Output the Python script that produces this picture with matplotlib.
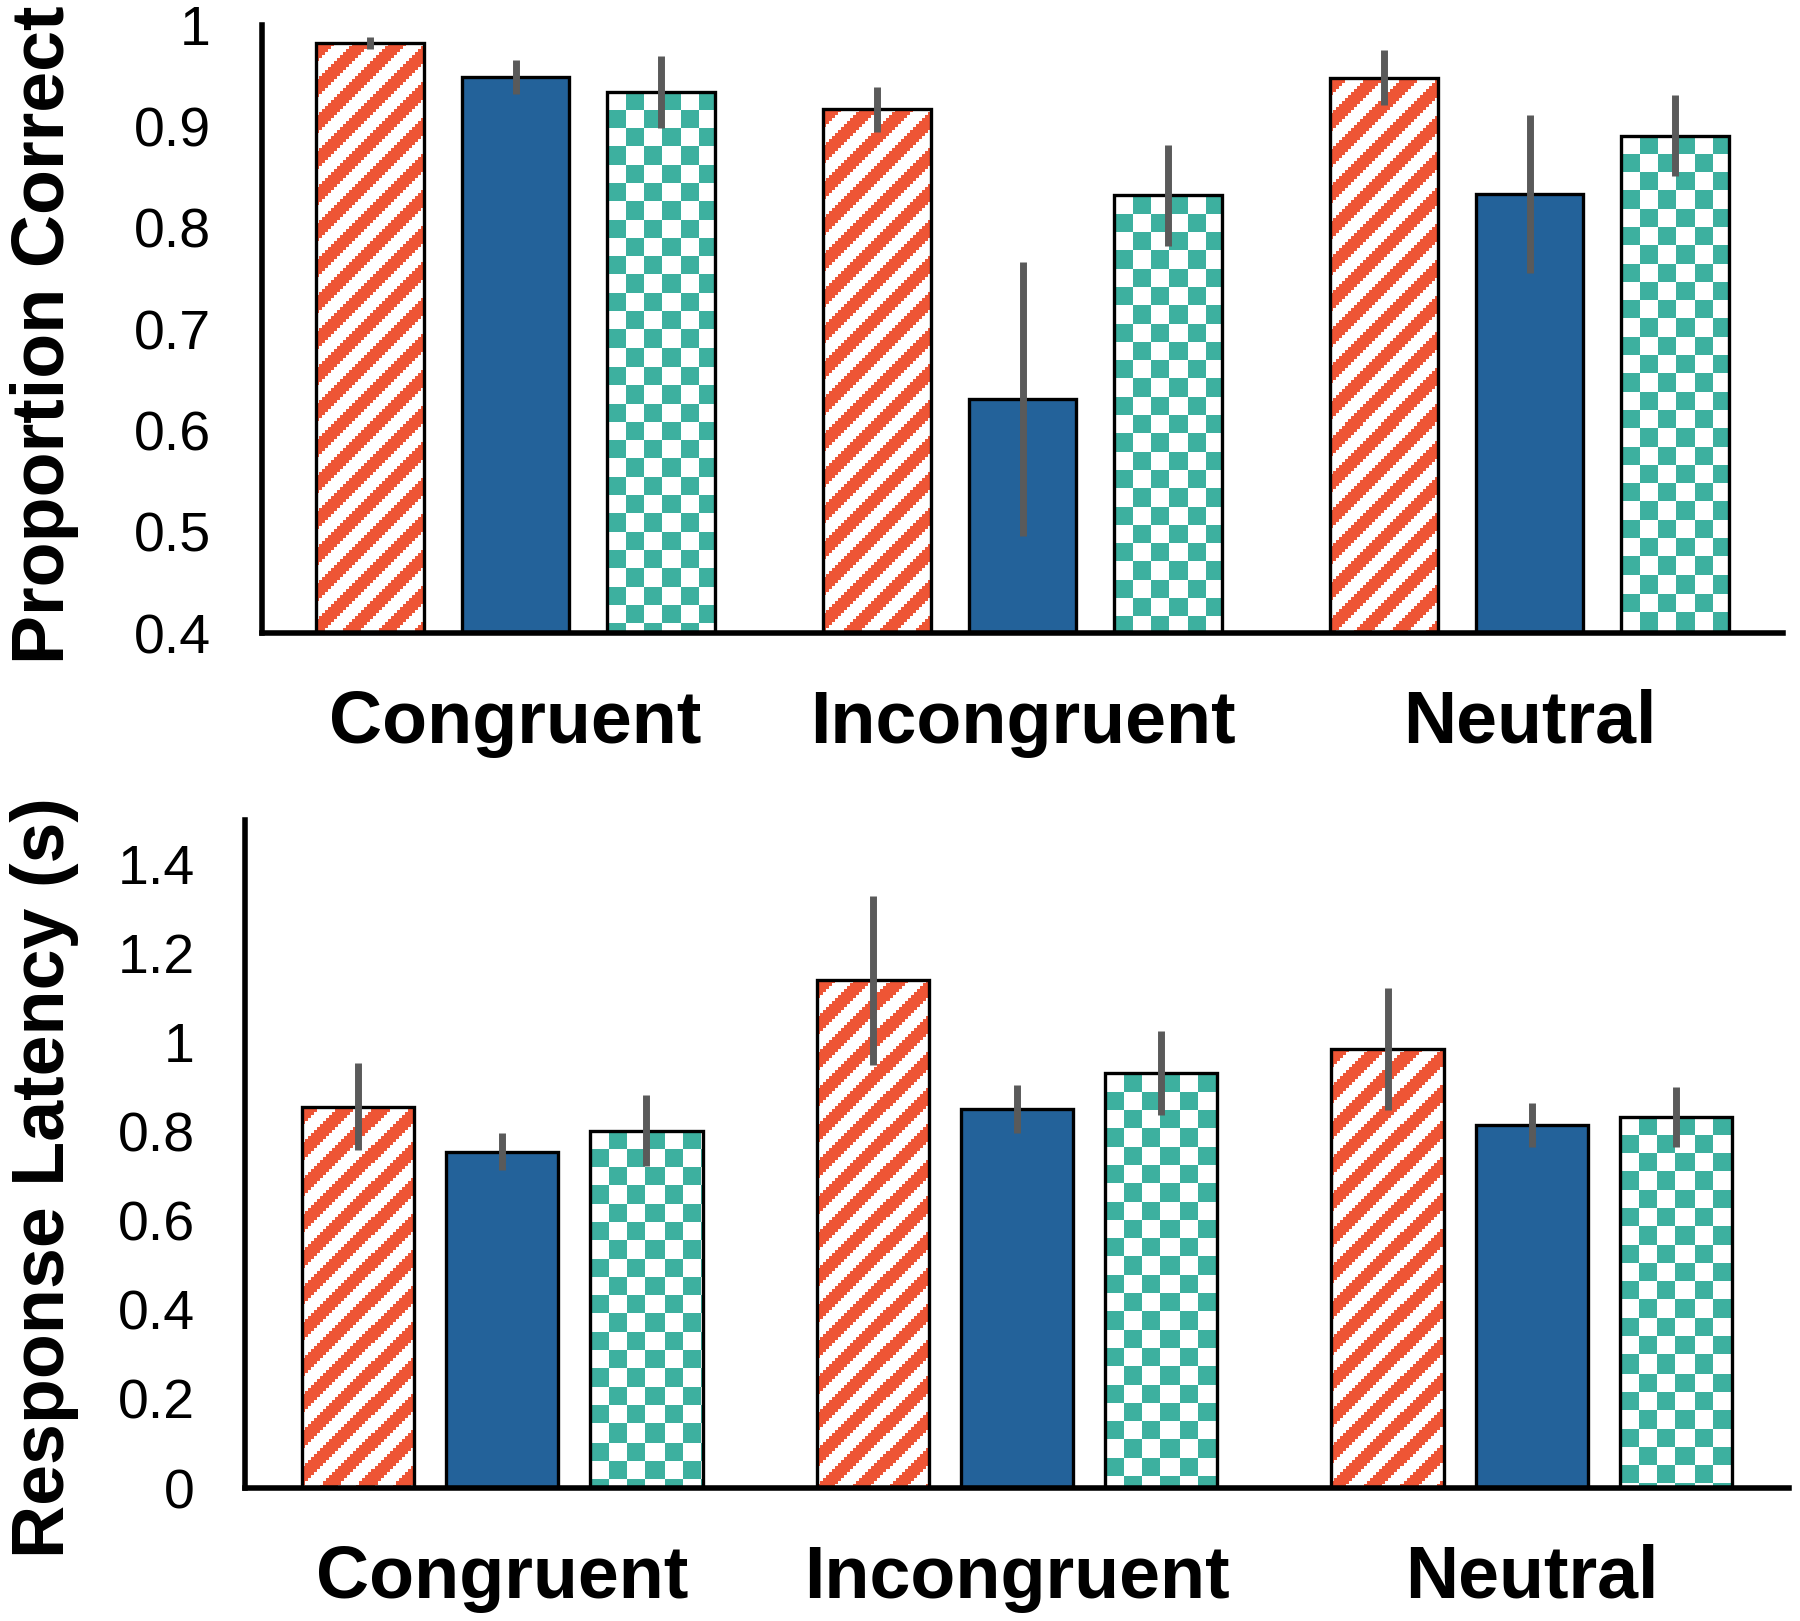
import numpy as np
import matplotlib
matplotlib.use("Agg")
import matplotlib.pyplot as plt
from matplotlib.colors import ListedColormap
from matplotlib.patches import Rectangle

plt.rcParams["font.family"] = ["Liberation Sans", "DejaVu Sans"]

# ── Data ───────────────────────────────────────────────────────────────────────
conditions = ["Congruent", "Incongruent", "Neutral"]
series_names = ["striped", "solid", "checked"]

acc_striped = [0.982, 0.917, 0.948]
acc_solid = [0.949, 0.631, 0.833]
acc_checked = [0.934, 0.832, 0.891]
acc_err_striped = [0.006, 0.022, 0.027]
acc_err_solid = [0.017, 0.135, 0.078]
acc_err_checked = [0.036, 0.050, 0.040]

rt_striped = [0.856, 1.139, 0.985]
rt_solid = [0.755, 0.851, 0.815]
rt_checked = [0.802, 0.931, 0.833]
rt_err_striped = [0.098, 0.190, 0.137]
rt_err_solid = [0.041, 0.054, 0.050]
rt_err_checked = [0.080, 0.094, 0.068]

acc_ticks = [0.4, 0.5, 0.6, 0.7, 0.8, 0.9, 1.0]
acc_ticklabels = ["0.4", "0.5", "0.6", "0.7", "0.8", "0.9", "1"]
rt_ticks = [0, 0.2, 0.4, 0.6, 0.8, 1.0, 1.2, 1.4]
rt_ticklabels = ["0", "0.2", "0.4", "0.6", "0.8", "1", "1.2", "1.4"]

# ── Style ──────────────────────────────────────────────────────────────────────
RED = "#EE5535"
BLUE = "#23629A"
TEAL = "#3DB09F"
ERR = "#5A5A5A"
CELL_PX = 18.3      # checker square, pixels
STRIPE_PV = 36.0    # stripe period down a column, pixels
STRIPE_PH = 36.0    # stripe period along a row, pixels
STRIPE_FRAC = 0.45  # red share of each period
STEP_PX = 3         # staircase step of the bitmap stripes


def texture_fill(ax, bar, ybottom, kind):
    # pixel-level bitmap texture (stripes / checkerboard) clipped to a bar
    px_x = ax.bbox.width / np.ptp(ax.get_xlim())
    px_y = ax.bbox.height / np.ptp(ax.get_ylim())
    x0, w = bar.get_x(), bar.get_width()
    ytop = bar.get_y() + bar.get_height()
    nx = int(np.ceil(w * px_x)) + 2
    ny = int(np.ceil((ytop - ybottom) * px_y)) + 2
    i, j = np.indices((ny, nx))
    if kind == "stripe":
        ii = (i // STEP_PX) * STEP_PX
        jj = (j // STEP_PX) * STEP_PX
        mask = ((ii / STRIPE_PV + jj / STRIPE_PH) % 1.0) < STRIPE_FRAC
        color = RED
    else:
        mask = (np.floor(i / CELL_PX) + np.floor(j / CELL_PX)) % 2 == 1
        color = TEAL
    im = ax.imshow(mask.astype(int), cmap=ListedColormap(["white", color]),
                   vmin=0, vmax=1,
                   extent=(x0, x0 + nx / px_x, ytop - ny / px_y, ytop),
                   origin="upper", aspect="auto", interpolation="nearest",
                   zorder=2)
    clip = Rectangle((x0, ybottom), w, ytop - ybottom, transform=ax.transData)
    im.set_clip_path(clip)


def draw_panel(ax, vals, errs, ylim, ticks, ticklabels, ylabel,
               width, offset, label_xy, ytick_pad):
    x = np.arange(len(conditions))
    ax.set_xlim(-0.5, 2.5)
    ax.set_ylim(*ylim)

    for k, (v, e) in enumerate(zip(vals, errs)):
        xk = x + (k - 1) * offset
        face = BLUE if k == 1 else "white"
        bars = ax.bar(xk, v, width, color=face, linewidth=0, zorder=1)
        if k != 1:
            for b in bars:
                texture_fill(ax, b, ylim[0], "stripe" if k == 0 else "checker")
        ax.bar(xk, v, width, fill=False, edgecolor="black", linewidth=2.4,
               zorder=3)
        ax.errorbar(xk, v, yerr=e, fmt="none", ecolor=ERR, elinewidth=5,
                    capsize=0, zorder=4)

    ax.set_xlim(-0.5, 2.5)
    ax.set_ylim(*ylim)
    ax.set_yticks(ticks)
    ax.set_yticklabels(ticklabels)
    ax.set_xticks(x)
    ax.set_xticklabels(conditions, fontsize=53, fontweight="bold")
    ax.tick_params(axis="y", length=0, labelsize=40, pad=ytick_pad)
    ax.tick_params(axis="x", length=0, pad=40)
    for s in ["top", "right"]:
        ax.spines[s].set_visible(False)
    for s in ["left", "bottom"]:
        ax.spines[s].set_linewidth(4)
        ax.spines[s].set_color("black")
    ax.set_ylabel(ylabel, fontsize=53, fontweight="bold", va="center")
    ax.yaxis.set_label_coords(*label_xy)


fig = plt.figure(figsize=(18, 16.21), dpi=100)
ax1 = fig.add_axes([0.1456, 0.6095, 0.845, 0.375])
ax2 = fig.add_axes([0.1361, 0.082, 0.8578, 0.4124])

draw_panel(ax1,
           [acc_striped, acc_solid, acc_checked],
           [acc_err_striped, acc_err_solid, acc_err_checked],
           (0.4, 1.0), acc_ticks, acc_ticklabels, "Proportion Correct",
           0.2125, 0.287, (-0.143, 0.49), 37)
draw_panel(ax2,
           [rt_striped, rt_solid, rt_checked],
           [rt_err_striped, rt_err_solid, rt_err_checked],
           (0, 1.5), rt_ticks, rt_ticklabels, "Response Latency (s)",
           0.218, 0.28, (-0.130, 0.465), 36)

fig.savefig("out.png", dpi=100)
